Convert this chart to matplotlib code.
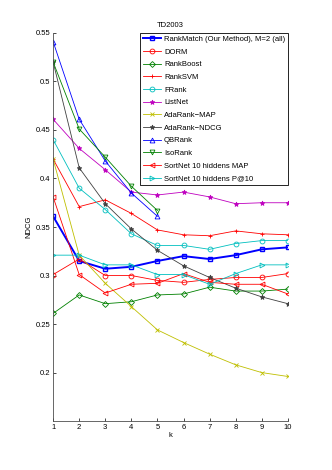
import matplotlib
matplotlib.use("Agg")
import matplotlib.pyplot as plt

plt.rcParams['font.family'] = ['Liberation Sans', 'DejaVu Sans']

k = [1, 2, 3, 4, 5, 6, 7, 8, 9, 10]
k5 = [1, 2, 3, 4, 5]

rankmatch = [0.361, 0.315, 0.307, 0.309, 0.315, 0.320, 0.317, 0.321, 0.327, 0.329]
dorm = [0.301, 0.317, 0.300, 0.300, 0.295, 0.293, 0.296, 0.298, 0.298, 0.302]
rankboost = [0.261, 0.280, 0.271, 0.273, 0.280, 0.281, 0.288, 0.284, 0.284, 0.286]
ranksvm = [0.420, 0.371, 0.378, 0.364, 0.347, 0.342, 0.341, 0.346, 0.343, 0.342]
frank = [0.440, 0.390, 0.368, 0.343, 0.331, 0.331, 0.327, 0.333, 0.336, 0.336]
listnet = [0.461, 0.431, 0.409, 0.386, 0.383, 0.386, 0.381, 0.374, 0.375, 0.375]
adarank_map = [0.420, 0.321, 0.292, 0.268, 0.244, 0.231, 0.219, 0.208, 0.200, 0.196]
adarank_ndcg = [0.520, 0.411, 0.374, 0.348, 0.326, 0.310, 0.298, 0.287, 0.278, 0.271]
qbrank = [0.541, 0.461, 0.418, 0.385, 0.361]
isorank = [0.520, 0.451, 0.422, 0.392, 0.367]
sortnet_map = [0.381, 0.301, 0.282, 0.291, 0.292, 0.302, 0.293, 0.291, 0.291, 0.281]
sortnet_p10 = [0.321, 0.321, 0.311, 0.311, 0.301, 0.301, 0.291, 0.302, 0.311, 0.311]

fig = plt.figure(figsize=(3.32, 4.70), dpi=100)
ax = fig.add_axes([0.16, 0.104, 0.707, 0.826])

fs = 5.5
lw = 0.6
ms = 3.5

blue = (0, 0, 1)
red = (1, 0, 0)
green = (0, 0.5, 0)
cyan = (0, 0.75, 0.75)
magenta = (0.75, 0, 0.75)
yellow = (0.75, 0.75, 0)
gray = (0.25, 0.25, 0.25)

ax.plot(k, rankmatch, '-s', color=blue, lw=1.4, ms=ms, mfc='none', mew=1.0,
        label='RankMatch (Our Method), M=2 (all)')
ax.plot(k, dorm, '-o', color=red, lw=lw, ms=ms, mfc='none', mew=0.6, label='DORM')
ax.plot(k, rankboost, '-D', color=green, lw=lw, ms=3, mfc='none', mew=0.6, label='RankBoost')
ax.plot(k, ranksvm, '-+', color=red, lw=lw, ms=ms, mew=0.6, label='RankSVM')
ax.plot(k, frank, '-o', color=cyan, lw=lw, ms=ms, mfc='none', mew=0.6, label='FRank')
ax.plot(k, listnet, '-*', color=magenta, lw=lw, ms=ms, mew=0.6, label='ListNet')
ax.plot(k, adarank_map, '-x', color=yellow, lw=lw, ms=2.5, mew=0.6, label='AdaRank\u2212MAP')
ax.plot(k, adarank_ndcg, '-*', color=gray, lw=lw, ms=ms, mew=0.6, label='AdaRank\u2212NDCG')
ax.plot(k5, qbrank, '-^', color=blue, lw=lw, ms=ms, mfc='none', mew=0.6, label='QBRank')
ax.plot(k5, isorank, '-v', color=green, lw=lw, ms=ms, mfc='none', mew=0.6, label='IsoRank')
ax.plot(k, sortnet_map, '-<', color=red, lw=lw, ms=ms, mfc='none', mew=0.6,
        label='SortNet 10 hiddens MAP')
ax.plot(k, sortnet_p10, '->', color=cyan, lw=lw, ms=ms, mfc='none', mew=0.6,
        label='SortNet 10 hiddens P@10')

ax.set_xlim(1, 10)
ax.set_ylim(0.15, 0.55)
ax.set_xticks(k)
ax.set_yticks([0.2, 0.25, 0.3, 0.35, 0.4, 0.45, 0.5, 0.55])
ax.set_yticklabels(['0.2', '0.25', '0.3', '0.35', '0.4', '0.45', '0.5', '0.55'])
ax.tick_params(direction='in', length=2.5, width=0.5, labelsize=fs, pad=2)
for s in ['top', 'right']:
    ax.spines[s].set_visible(False)
for s in ['left', 'bottom']:
    ax.spines[s].set_linewidth(0.6)
    ax.spines[s].set_color((0.3, 0.3, 0.3))

ax.set_xlabel('k', fontsize=fs, labelpad=1)
ax.set_ylabel('NDCG', fontsize=fs, labelpad=2)
ax.set_title('TD2003', fontsize=fs, pad=4)

leg = ax.legend(loc='upper right', bbox_to_anchor=(1.0, 1.0), fontsize=fs,
                frameon=True, fancybox=False, edgecolor='black', handlelength=2.4,
                handletextpad=0.4, borderpad=0.35, labelspacing=0.7, borderaxespad=0,
                framealpha=1)
leg.get_frame().set_linewidth(0.6)

fig.savefig('out.png', dpi=100)
